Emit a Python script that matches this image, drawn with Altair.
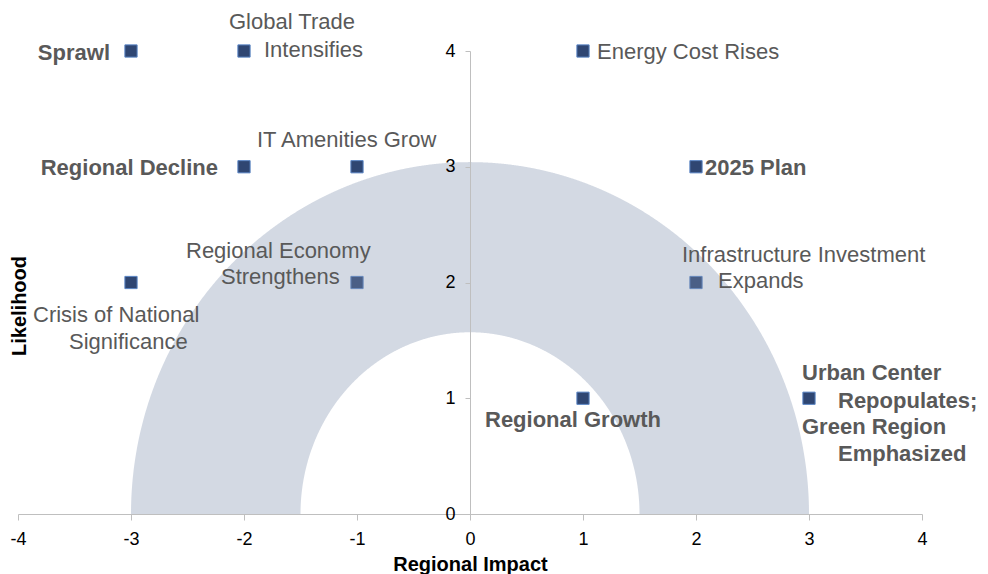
import altair as alt
import pandas as pd
import numpy as np

# ---- data ----
NAMES = [
    "Sprawl", "Global Trade Intensifies", "Energy Cost Rises",
    "Regional Decline", "IT Amenities Grow", "2025 Plan",
    "Crisis of National Significance", "Regional Economy Strengthens",
    "Infrastructure Investment Expands", "Regional Growth",
    "Urban Center Repopulates; Green Region Emphasized",
]
IMPACT = [-3, -2, 1, -2, -1, 2, -3, -1, 2, 1, 3]
LIKELIHOOD = [4, 4, 4, 3, 3, 3, 2, 2, 2, 1, 1]
LABEL_LINES = [
    ["Sprawl"],
    ["Global Trade", "Intensifies"],
    ["Energy Cost Rises"],
    ["Regional Decline"],
    ["IT Amenities Grow"],
    ["2025 Plan"],
    ["Crisis of National", "Significance"],
    ["Regional Economy", "Strengthens"],
    ["Infrastructure Investment", "Expands"],
    ["Regional Growth"],
    ["Urban Center", "Repopulates;", "Green Region", "Emphasized"],
]
X_TICKS = [-4, -3, -2, -1, 0, 1, 2, 3, 4]
Y_TICKS = [0, 1, 2, 3, 4]
BAND_OUTER_RADII = [3.0, 3.04]   # x-radius, y-radius (data units)
BAND_INNER_RADII = [1.5, 1.57]

FONT = "Liberation Sans"
TEXT_GRAY = "#595959"

# ---- band (half annulus) geometry ----
ox, oy = BAND_OUTER_RADII
ix, iy = BAND_INNER_RADII
theta = np.linspace(0, np.pi, 721)
xs = np.unique(np.round(np.concatenate([ox * np.cos(theta), ix * np.cos(theta)]), 6))
y_out = oy * np.sqrt(np.clip(1 - (xs / ox) ** 2, 0, None))
y_in = np.where(np.abs(xs) < ix, iy * np.sqrt(np.clip(1 - (xs / ix) ** 2, 0, None)), 0.0)
band_df = pd.DataFrame({"x": xs, "y": y_out, "y2": y_in})

pts_df = pd.DataFrame({"x": IMPACT, "y": LIKELIHOOD, "name": NAMES})

X = alt.X(
    "x:Q",
    scale=alt.Scale(domain=[-4, 4], nice=False, zero=False),
    axis=alt.Axis(
        values=X_TICKS, grid=False, domainColor="#BFBFBF", tickColor="#BFBFBF",
        tickSize=6, labelFont=FONT, labelFontSize=18, labelColor="#000000",
        labelPadding=10, title="Regional Impact", titleFont=FONT,
        titleFontSize=20, titleFontWeight="bold", titleColor="#000000",
        titlePadding=6, zindex=1, labelFlush=False,
        labelExpr="'' + datum.value",
    ),
)
Y = alt.Y(
    "y:Q",
    scale=alt.Scale(domain=[0, 4], nice=False, zero=False),
    axis=alt.Axis(
        values=Y_TICKS, grid=False, domainColor="#BFBFBF", tickColor="#BFBFBF",
        tickSize=5, labelFont=FONT, labelFontSize=18, labelColor="#000000",
        labelPadding=10, title=None, offset=-452, zindex=1,
        labelExpr="'' + datum.value",
    ),
)

points = alt.Chart(pts_df).mark_point(
    shape="square", filled=True, size=150, fill="#2F4672",
    stroke="#5B86C5", strokeWidth=1, opacity=1,
).encode(x=X, y=Y)

band = alt.Chart(band_df).mark_area(
    color="#7F91AE", opacity=0.345
).encode(x=X, y=Y, y2="y2:Q")

# label layout (pixel offsets from the point)
LAYOUT = [
    # point, line, dx, dy, align, bold
    (0, 0, -21, 2, "right", True),
    (1, 0, -15, -29, "left", False),
    (1, 1, 20, -1, "left", False),
    (2, 0, 14, 1, "left", False),
    (3, 0, -26, 1, "right", True),
    (4, 0, -100, -26.5, "left", False),
    (5, 0, 9, 1, "left", True),
    (6, 0, -98, 32, "left", False),
    (6, 1, -62, 59, "left", False),
    (7, 0, -171, -32, "left", False),
    (7, 1, -136, -5.5, "left", False),
    (8, 0, -14, -27.5, "left", False),
    (8, 1, 22, -1.5, "left", False),
    (9, 0, -98, 21.5, "left", True),
    (10, 0, -7, -25, "left", True),
    (10, 1, 29, 3, "left", True),
    (10, 2, -7, 29, "left", True),
    (10, 3, 29, 56, "left", True),
]

label_layers = []
for p, ln, dx, dy, align, bold in LAYOUT:
    df = pd.DataFrame({"x": [IMPACT[p]], "y": [LIKELIHOOD[p]], "t": [LABEL_LINES[p][ln]]})
    label_layers.append(
        alt.Chart(df).mark_text(
            align=align, baseline="middle", dx=dx, dy=dy, font=FONT,
            fontSize=22, fontWeight="bold" if bold else "normal", color=TEXT_GRAY,
        ).encode(x=X, y=Y, text="t:N")
    )

ytitle = alt.Chart(pd.DataFrame({"t": ["Likelihood"]})).mark_text(
    angle=270, align="center", baseline="middle", font=FONT, fontSize=20,
    fontWeight="bold", color="#000000",
).encode(x=alt.value(2), y=alt.value(255), text="t:N")

chart = alt.layer(points, band, *label_layers, ytitle).properties(
    width=904, height=463,
    autosize=alt.AutoSizeParams(type="none"),
    padding={"left": 10, "top": 43, "right": 56, "bottom": 60},
    background="white",
).configure_view(stroke=None)

chart.save("out.html", embed_options={"renderer": "svg", "actions": False})
